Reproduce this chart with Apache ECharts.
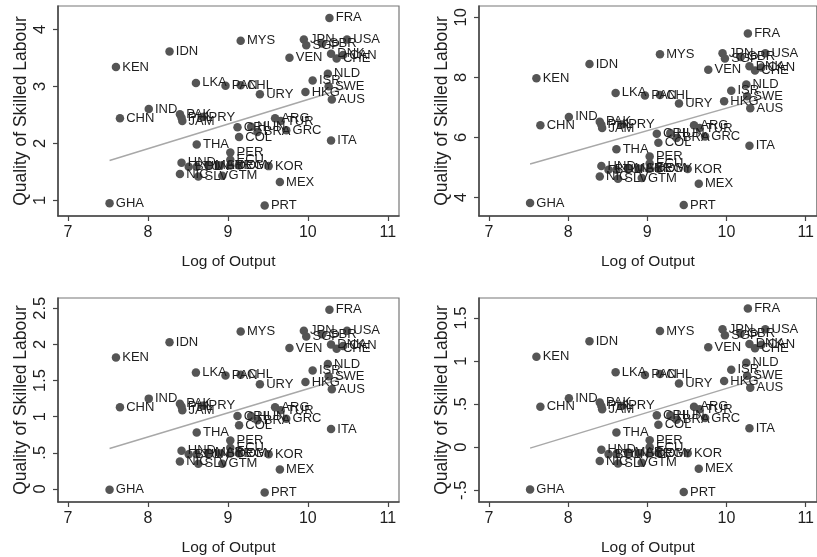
<!DOCTYPE html>
<html>
<head>
<meta charset="utf-8">
<script src="https://cdn.jsdelivr.net/npm/echarts@6/dist/echarts.min.js"></script>
<style>
  html, body { margin: 0; padding: 0; background: #fff; }
  #chart { width: 817px; height: 557px; }
</style>
</head>
<body>
<div id="chart"></div>
<script>
// Country codes
const countries = ['FRA','MYS','IDN','KEN','JPN','SGP','GBR','USA','DNK','CAN','CHE','VEN','NLD','ISR','SWE','HKG','AUS','ITA','LKA','PAN','CHL','URY','IND','CHN','PAK','PHL','JAM','PRY','ARG','TUR','CRI','HUN','BRA','GRC','COL','THA','PER','ECU','DOM','EGY','HND','BOL','TUN','NIC','SLV','GTM','MAR','SYR','KOR','MEX','PRT','GHA'];

// Log of output per worker
const logOutput = [10.27,9.16,8.27,7.60,9.95,9.98,10.18,10.49,10.29,10.44,10.36,9.77,10.25,10.06,10.26,9.97,10.30,10.29,8.60,8.97,9.16,9.40,8.01,7.65,8.40,8.42,8.43,8.68,9.59,9.66,9.12,9.29,9.37,9.73,9.14,8.61,9.03,9.03,9.03,9.14,8.42,8.51,8.61,8.40,8.63,8.93,8.76,8.90,9.51,9.65,9.46,7.52];

// Quality of skilled labour, four measures
const skillA = [4.20,3.80,3.61,3.34,3.82,3.72,3.75,3.82,3.57,3.55,3.49,3.50,3.22,3.10,3.00,2.90,2.77,2.05,3.06,3.01,3.02,2.86,2.60,2.44,2.51,2.45,2.39,2.46,2.44,2.39,2.28,2.29,2.20,2.23,2.11,1.98,1.84,1.71,1.61,1.61,1.66,1.59,1.59,1.46,1.42,1.43,1.62,1.61,1.60,1.32,0.91,0.95];
const skillB = [9.46,8.77,8.44,7.97,8.80,8.63,8.68,8.80,8.37,8.33,8.23,8.25,7.76,7.55,7.37,7.20,6.97,5.72,7.48,7.39,7.41,7.13,6.68,6.40,6.52,6.42,6.31,6.43,6.40,6.31,6.12,6.14,5.98,6.03,5.82,5.60,5.36,5.13,4.95,4.95,5.04,4.92,4.92,4.69,4.62,4.64,4.97,4.95,4.94,4.45,3.74,3.81];
const skillC = [2.48,2.18,2.03,1.82,2.19,2.11,2.14,2.19,2.00,1.98,1.94,1.95,1.73,1.64,1.56,1.48,1.38,0.83,1.61,1.57,1.58,1.45,1.25,1.13,1.18,1.14,1.09,1.15,1.13,1.09,1.01,1.01,0.95,0.97,0.88,0.78,0.67,0.57,0.49,0.49,0.53,0.48,0.48,0.38,0.35,0.35,0.50,0.49,0.48,0.27,-0.05,-0.01];
const skillD = [1.61,1.35,1.23,1.05,1.37,1.30,1.32,1.37,1.20,1.19,1.15,1.16,0.98,0.90,0.83,0.77,0.69,0.22,0.87,0.84,0.85,0.74,0.57,0.47,0.52,0.48,0.44,0.48,0.47,0.44,0.37,0.37,0.32,0.34,0.26,0.17,0.08,0.00,-0.07,-0.07,-0.03,-0.08,-0.08,-0.16,-0.19,-0.18,-0.06,-0.07,-0.07,-0.25,-0.52,-0.49];

// Fitted lines (end points)
const fitX = [7.52, 10.49];
const fitA = [1.70, 2.98];
const fitB = [5.11, 7.34];
const fitC = [0.56, 1.55];
const fitD = [-0.01, 0.82];

// Tick values
const xTicks = [7, 8, 9, 10, 11];
const yTicksA = [1, 2, 3, 4];
const yTicksB = [4, 6, 8, 10];
const yTicksC = [0, 0.5, 1, 1.5, 2, 2.5];
const yTicksD = [-0.5, 0, 0.5, 1, 1.5];

const xTitle = 'Log of Output';
const yTitle = 'Quality of Skilled Labour';

const FONT = 'Liberation Sans, Arial, sans-serif';
const AXIS_COLOR = '#444';
const TEXT_COLOR = '#1e1e1e';

function fmt(v) {
  const s = String(+(+v).toFixed(2));
  return s.replace(/^(-?)0\./, '$1.');
}

const panels = [
  { ys: skillA, fit: fitA, ticks: yTicksA, ymin: 0.725, ymax: 4.409, left: 58, top: 6, height: 210 },
  { ys: skillB, fit: fitB, ticks: yTicksB, ymin: 3.377, ymax: 10.377, left: 479, top: 6, height: 210 },
  { ys: skillC, fit: fitC, ticks: yTicksC, ymin: -0.181, ymax: 2.643, left: 58, top: 298, height: 209 },
  { ys: skillD, fit: fitD, ticks: yTicksD, ymin: -0.636, ymax: 1.733, left: 479, top: 298, height: 209 }
];

const grid = [], xAxis = [], yAxis = [], series = [];
panels.forEach((p, i) => {
  grid.push({
    left: p.left, top: p.top, width: 341, height: p.height,
    show: true, borderColor: '#777', borderWidth: 1.2, backgroundColor: 'transparent'
  });
  xAxis.push({
    type: 'value', gridIndex: i, min: 6.875, max: 11.14,
    axisLine: { show: true, onZero: false, lineStyle: { color: AXIS_COLOR, width: 1.5 } },
    axisTick: { show: true, inside: false, length: 5, customValues: xTicks, lineStyle: { color: AXIS_COLOR, width: 1.2 } },
    axisLabel: { customValues: xTicks, margin: 9, color: TEXT_COLOR, fontSize: 16, fontFamily: FONT, formatter: fmt },
    splitLine: { show: false },
    name: xTitle, nameLocation: 'middle', nameGap: 38,
    nameTextStyle: { color: TEXT_COLOR, fontSize: 15.5, fontFamily: FONT }
  });
  yAxis.push({
    type: 'value', gridIndex: i, min: p.ymin, max: p.ymax,
    axisLine: { show: true, onZero: false, lineStyle: { color: AXIS_COLOR, width: 1.5 } },
    axisTick: { show: true, inside: false, length: 5, customValues: p.ticks, lineStyle: { color: AXIS_COLOR, width: 1.2 } },
    axisLabel: { customValues: p.ticks, rotate: 90, margin: 9, color: TEXT_COLOR, fontSize: 16.5, fontFamily: FONT, formatter: fmt },
    splitLine: { show: false },
    name: yTitle, nameLocation: 'middle', nameGap: 28,
    nameTextStyle: { color: TEXT_COLOR, fontSize: 17.5, fontFamily: FONT }
  });
  series.push({
    type: 'line', xAxisIndex: i, yAxisIndex: i,
    data: fitX.map((x, k) => [x, p.fit[k]]),
    symbol: 'none', silent: true, z: 1,
    lineStyle: { color: '#a8a8a8', width: 1.5 }
  });
  series.push({
    type: 'scatter', xAxisIndex: i, yAxisIndex: i,
    data: logOutput.map((x, k) => ({ value: [x, p.ys[k]], name: countries[k] })),
    symbol: 'circle', symbolSize: 8.5, z: 2,
    itemStyle: { color: '#555', opacity: 1 },
    label: {
      show: true, position: 'right', distance: 2,
      formatter: (d) => d.name,
      color: TEXT_COLOR, fontSize: 13, fontFamily: FONT
    },
    labelLayout: { hideOverlap: false },
    emphasis: { disabled: true }
  });
});

const chart = echarts.init(document.getElementById('chart'), null, { renderer: 'canvas' });
chart.setOption({
  animation: false,
  backgroundColor: '#fff',
  grid, xAxis, yAxis, series
});
</script>
</body>
</html>
